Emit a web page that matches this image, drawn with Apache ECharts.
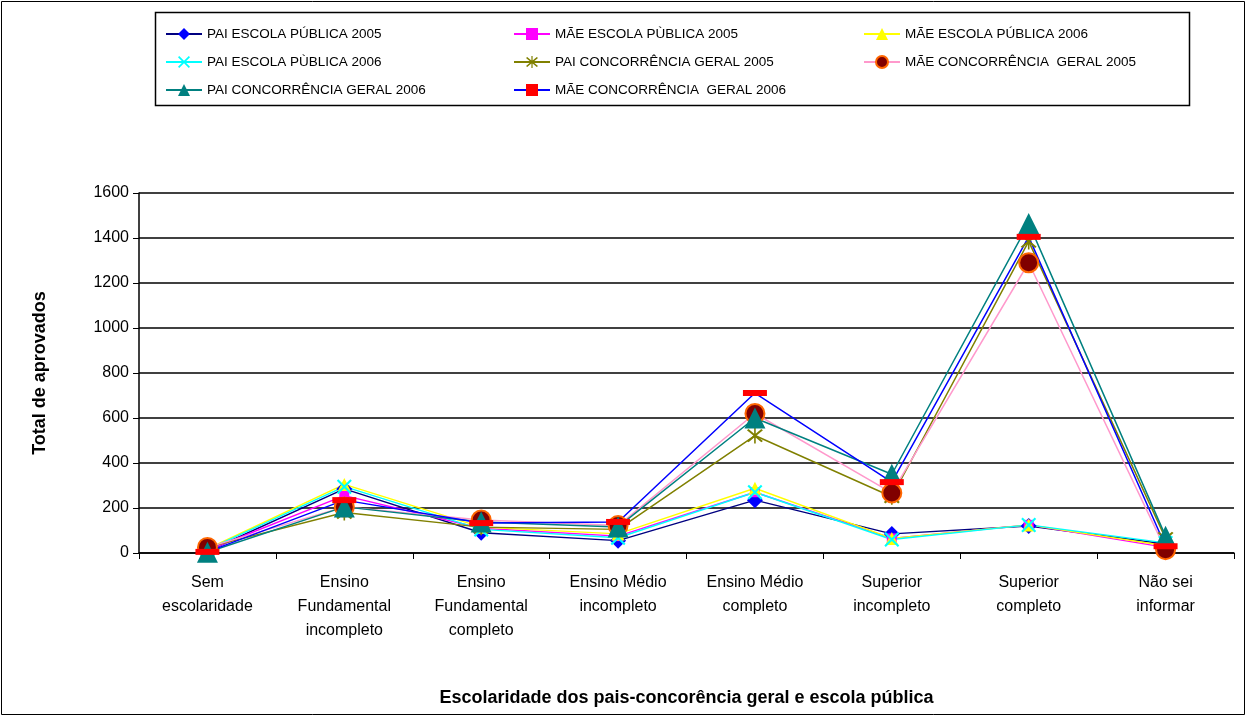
<!DOCTYPE html>
<html>
<head>
<meta charset="utf-8">
<script src="https://cdn.jsdelivr.net/npm/echarts@6/dist/echarts.min.js"></script>
<style>html,body{margin:0;padding:0;background:#fff}#c{width:1247px;height:717px}</style>
</head>
<body>
<div id="c"></div>
<script>
const categories = ['Sem\nescolaridade','Ensino\nFundamental\nincompleto','Ensino\nFundamental\ncompleto','Ensino Médio\nincompleto','Ensino Médio\ncompleto','Superior\nincompleto','Superior\ncompleto','Não sei\ninformar'];
const yTicks = [0,200,400,600,800,1000,1200,1400,1600];
const seriesNames = ['PAI ESCOLA PÚBLICA 2005','MÃE ESCOLA PÙBLICA 2005','MÃE ESCOLA PÚBLICA 2006','PAI ESCOLA PÙBLICA 2006','PAI CONCORRÊNCIA GERAL 2005','MÃE CONCORRÊNCIA  GERAL 2005','PAI CONCORRÊNCIA GERAL 2006','MÃE CONCORRÊNCIA  GERAL 2006'];
const paiEP2005 = [8, 285, 90, 55, 235, 85, 120, 40];
const maeEP2005 = [12, 255, 110, 75, 270, 65, 125, 25];
const maeEP2006 = [18, 305, 115, 85, 288, 65, 125, 32];
const paiEP2006 = [15, 295, 105, 68, 270, 60, 125, 45];
const paiCG2005 = [25, 180, 115, 105, 522, 250, 1385, 65];
const maeCG2005 = [25, 205, 147, 122, 620, 267, 1290, 15];
const paiCG2006 = [3, 205, 138, 116, 600, 350, 1465, 75];
const maeCG2006 = [5, 235, 133, 138, 711, 315, 1405, 30];

const X = 'path://M0,1 L1,0 L10,9 L9,10 Z M9,0 L10,1 L1,10 L0,9 Z';
const AST = 'path://M0,1 L1,0 L10,9 L9,10 Z M9,0 L10,1 L1,10 L0,9 Z M4.5,-1 L5.5,-1 L5.5,11 L4.5,11 Z';
const DASH = 'path://M0,0 L10,0 L10,2 L0,2 Z';

function mk(name, data, lineColor, symbol, size, fill, border) {
  return {
    name, type: 'line', data, symbol, symbolSize: size, symbolKeepAspect: false,
    lineStyle: {color: lineColor, width: 1.5},
    itemStyle: {color: fill, borderColor: border || fill, borderWidth: border ? 2 : 0},
    emphasis: {disabled: true}, animation: false, z: 2
  };
}
const series = [
  mk(seriesNames[0], paiEP2005, '#000080', 'diamond', 16, '#0000FF'),
  mk(seriesNames[1], maeEP2005, '#FF00FF', 'rect', 10, '#FF00FF'),
  mk(seriesNames[2], maeEP2006, '#FFFF00', 'triangle', 13, '#FFFF00'),
  mk(seriesNames[3], paiEP2006, '#00FFFF', X, 15, '#00FFFF'),
  mk(seriesNames[4], paiCG2005, '#808000', AST, 16, '#808000'),
  mk(seriesNames[5], maeCG2005, '#FF99CC', 'circle', 19, '#800000', '#FF6600'),
  mk(seriesNames[6], paiCG2006, '#008080', 'triangle', 21, '#008080'),
  mk(seriesNames[7], maeCG2006, '#0000FF', DASH, [24, 6], '#FF0000')
];

const legendBase = {
  orient: 'vertical', top: 22, itemGap: 14, itemWidth: 36, itemHeight: 15,
  textStyle: {fontFamily: 'Liberation Sans, Arial', fontSize: 13.5, color: '#000'},
  selectedMode: false
};
const chart = echarts.init(document.getElementById('c'), null, {renderer: 'canvas'});
chart.setOption({
  animation: false,
  textStyle: {fontFamily: 'Liberation Sans, Arial'},
  graphic: [
    {type: 'rect', shape: {x: 1.5, y: 1.5, width: 1243, height: 713}, style: {fill: 'none', stroke: '#000', lineWidth: 1}, silent: true},
    {type: 'rect', shape: {x: 155.5, y: 12.5, width: 1034, height: 93}, style: {fill: 'none', stroke: '#000', lineWidth: 1.5}, silent: true}
  ],
  legend: [
    Object.assign({}, legendBase, {left: 160, data: [seriesNames[0], seriesNames[3], seriesNames[6]]}),
    Object.assign({}, legendBase, {left: 508, data: [seriesNames[1], seriesNames[4], seriesNames[7]]}),
    Object.assign({}, legendBase, {left: 858, data: [seriesNames[2], seriesNames[5]]})
  ],
  grid: {left: 139, right: 13, top: 193, bottom: 164, containLabel: false},
  xAxis: {
    type: 'category', data: categories, boundaryGap: true,
    name: 'Escolaridade dos pais-concorência geral e escola pública',
    nameLocation: 'middle', nameGap: 136,
    nameTextStyle: {fontWeight: 'bold', fontSize: 18, color: '#000'},
    axisLine: {lineStyle: {color: '#000', width: 1.5}},
    axisTick: {show: true, alignWithLabel: false, length: 6, lineStyle: {color: '#000'}},
    axisLabel: {color: '#000', fontSize: 16, lineHeight: 24, margin: 18, interval: 0}
  },
  yAxis: {
    type: 'value', min: yTicks[0], max: yTicks[yTicks.length - 1], interval: 200,
    name: 'Total de aprovados', nameLocation: 'middle', nameGap: 90,
    nameTextStyle: {fontWeight: 'bold', fontSize: 18, color: '#000'},
    axisLine: {show: true, lineStyle: {color: '#000', width: 1.5}},
    axisTick: {show: true, inside: false, length: 6, lineStyle: {color: '#000'}},
    axisLabel: {color: '#000', fontSize: 16, margin: 10, formatter: v => String(v)},
    splitLine: {lineStyle: {color: '#000', width: 1.5}}
  },
  series
});
</script>
</body>
</html>
